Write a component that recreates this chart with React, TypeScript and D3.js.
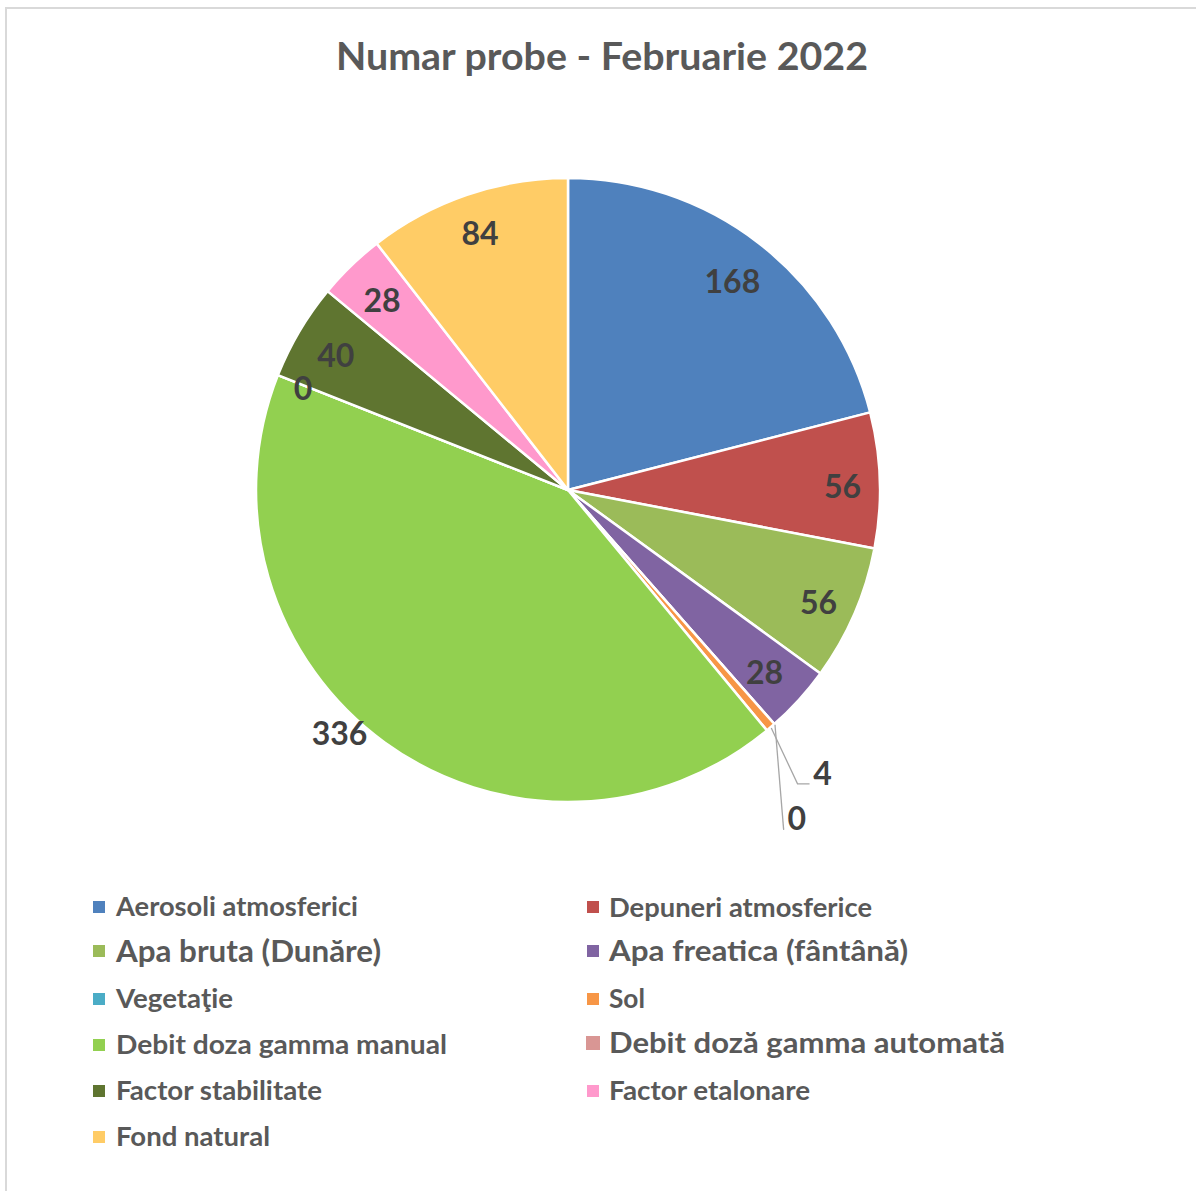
import React from "react";
import * as d3 from "d3";

const title = "Numar probe - Februarie 2022";
const categories = [
  "Aerosoli atmosferici",
  "Depuneri atmosferice",
  "Apa bruta (Dunăre)",
  "Apa freatica (fântână)",
  "Vegetaţie",
  "Sol",
  "Debit  doza gamma manual",
  "Debit doză gamma automată",
  "Factor stabilitate",
  "Factor etalonare",
  "Fond natural",
];
const values = [168, 56, 56, 28, 0, 4, 336, 0, 40, 28, 84];
const colors = [
  "#4F81BD", "#C0504D", "#9BBB59", "#8064A2", "#4BACC6", "#F79646",
  "#92D050", "#D99694", "#5F7530", "#FF99CC", "#FFCC66",
];

// label placement (radius fraction, angle shift in degrees, or leader line)
const labelPlacement: any[] = [
  { r: 0.85, shift: 0.5 },
  { r: 0.88, shift: 1 },
  { r: 0.88, shift: 0.7 },
  { r: 0.86, shift: 0.6 },
  { leader: true, elbowR: 1.29, elbowA: 147.6, labelDx: 13, labelDy: -11, horiz: 0 },
  { leader: true, elbowR: 1.195, elbowA: 142, labelDx: 13, labelDy: -10, horiz: 12 },
  { r: 1.07, shift: 7.2 },
  { r: 0.91, shift: -0.55 },
  { r: 0.86, shift: -0.5 },
  { r: 0.85, shift: -0.4 },
  { r: 0.87, shift: 0 },
];

// legend layout
const legendRows = [907, 907, 951, 951, 999, 999, 1045, 1043, 1091, 1091, 1137];
const legendFont = [26, 27, 30, 29, 26, 26, 26, 29, 26, 26, 26];
const legendWidth = [242, 263, 265, 299, 117, 36, 331, 396, 206, 201, 154];

export default function App() {
  const W = 1196;
  const H = 1191;
  const cx = 568;
  const cy = 490;
  const R = 312;
  const toRad = Math.PI / 180;

  const pie = d3.pie<number>().sort(null).value((d) => d)(values);
  const arc = d3.arc<d3.PieArcDatum<number>>().innerRadius(0).outerRadius(R);
  const polar = (aDeg: number, r: number) => [
    Math.sin(aDeg * toRad) * r,
    -Math.cos(aDeg * toRad) * r,
  ];

  const font = "Lato, 'Open Sans', sans-serif";

  return (
    <svg
      width={W}
      height={H}
      style={{ position: "absolute", left: 0, top: 0, background: "#fff" }}
    >
      <rect x={6} y={8} width={W} height={H} fill="#fff" stroke="#d9d9d9" strokeWidth={2} />
      <text
        x={602}
        y={70}
        textAnchor="middle"
        fontFamily={font}
        fontWeight={700}
        fontSize={38}
        fill="#595959"
        textLength={532}
        lengthAdjust="spacingAndGlyphs"
      >
        {title}
      </text>
      <g transform={`translate(${cx},${cy})`}>
        {pie.map((p, i) => (
          <path key={i} d={arc(p) || ""} fill={colors[i]} stroke="#fff" strokeWidth={2.5} strokeLinejoin="round" />
        ))}
        {pie.map((p, i) => {
          const pl = labelPlacement[i];
          const mid = ((p.startAngle + p.endAngle) / 2) / toRad;
          if (pl.leader) {
            const [x0, y0] = polar(mid, R + 1);
            const [x1, y1] = polar(pl.elbowA, R * pl.elbowR);
            const x2 = x1 + pl.horiz;
            return (
              <g key={"l" + i}>
                <polyline
                  points={`${x0},${y0} ${x1},${y1} ${x2},${y1}`}
                  fill="none"
                  stroke="#a6a6a6"
                  strokeWidth={1.3}
                />
                <text
                  x={x2 + pl.labelDx}
                  y={y1 + pl.labelDy}
                  textAnchor="middle"
                  dy="0.36em"
                  fontFamily={font}
                  fontWeight={700}
                  fontSize={32}
                  fill="#404040"
                >
                  {values[i]}
                </text>
              </g>
            );
          }
          const [x, y] = polar(mid + pl.shift, R * pl.r);
          return (
            <text
              key={"t" + i}
              x={x}
              y={y}
              dy="0.36em"
              textAnchor="middle"
              fontFamily={font}
              fontWeight={700}
              fontSize={32}
              fill="#404040"
            >
              {values[i]}
            </text>
          );
        })}
      </g>
      {categories.map((c, i) => {
        const col = i % 2;
        const mx = col === 0 ? 93 : 587;
        const tx = col === 0 ? 116 : 609;
        const y = legendRows[i];
        const big = i === 7;
        const s = big ? 14 : 12;
        return (
          <g key={"lg" + i}>
            <rect x={mx - (big ? 1 : 0)} y={y - s / 2} width={s} height={s} fill={colors[i]} />
            <text
              x={tx}
              y={y}
              dy="0.36em"
              fontFamily={font}
              fontWeight={700}
              fontSize={legendFont[i]}
              fill="#595959"
              textLength={legendWidth[i]}
              lengthAdjust="spacingAndGlyphs"
            >
              {c}
            </text>
          </g>
        );
      })}
    </svg>
  );
}
